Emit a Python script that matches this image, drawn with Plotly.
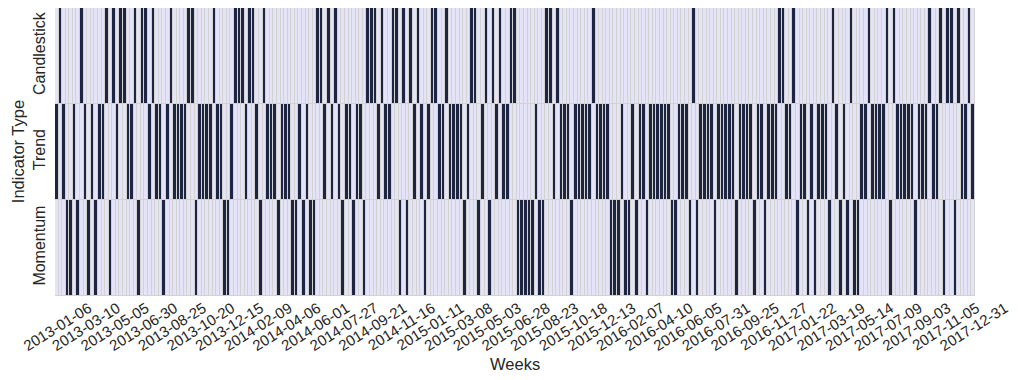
import pandas as pd
import plotly.graph_objects as go

# dominant indicator type per week (C = Candlestick, T = Trend, M = Momentum)
dominant = list(
    "TCTMMTMC" "TMTMTTCM" "CTCCTTCM" "CCTCTTMT"
    "CTTTTCCM" "TTTTCTTM" "MTCCCTCC" "TMCTTTMT"
    "TTMMTMTM" "MCCTCTCT" "MTTMTTMC" "CCTCTTCC"
    "MCMCTCTM" "TCCTTCTT" "TTMTCCMT" "CMCTCTTC"
    "CMMMMMTM" "MCCTCTTT" "MTTTTTCT" "TTTMMMTM"
    "MTMTTMTT" "TTTTMMTT" "TMCMTTTT" "MTTTTTMT"
    "TTTMTTMT" "TTCCTTCM" "TTMTMTTT" "MCTMTMCM"
    "MTTCTTTT" "CMCTTTTT" "MTTTCTTC" "MCCMCTTC"
    "T"
)
indicator_types = ["Candlestick", "Trend", "Momentum"]
indicator_codes = ["C", "T", "M"]

# weeks with no trading (holiday weeks) are absent from the data
missing_weeks = ["2013-02-17", "2016-02-14", "2016-10-09", "2017-10-08"]
weeks = [d.strftime("%Y-%m-%d") for d in pd.date_range("2013-01-06", "2017-12-31", freq="W-SUN")]
weeks = [w for w in weeks if w not in missing_weeks]

z = [[1 if c == code else 0 for c in dominant] for code in indicator_codes]

dark = "#1e2541"
light = "#e5e3f6"
text_col = "#262626"

fig = go.Figure(
    go.Heatmap(
        z=z,
        x=weeks,
        y=indicator_types,
        zmin=0,
        zmax=1,
        colorscale=[[0, light], [1, dark]],
        showscale=False,
        xgap=1,
        ygap=1,
    )
)

fig.update_xaxes(
    type="category",
    tickvals=weeks[::8],
    ticktext=weeks[::8],
    tickangle=-32,
    ticks="",
    showgrid=False,
    automargin=False,
    ticklabelshift=32,
    ticklabelstandoff=0,
    tickfont=dict(size=15, color=text_col),
)
fig.update_yaxes(
    type="category",
    autorange="reversed",
    tickangle=-90,
    ticks="",
    showgrid=False,
    automargin=False,
    ticklabelstandoff=6,
    tickfont=dict(size=16, color=text_col),
)

# axis titles
fig.add_annotation(text="Weeks", xref="paper", yref="paper", x=0.5, y=-0.236,
                   yanchor="middle", showarrow=False, font=dict(size=16.5, color=text_col))
fig.add_annotation(text="Indicator Type", xref="paper", yref="paper", x=-0.040, y=0.5,
                   xanchor="center", yanchor="middle", textangle=-90, showarrow=False,
                   font=dict(size=16.5, color=text_col))

fig.update_layout(
    width=1019,
    height=380,
    margin=dict(l=55, r=44, t=8, b=84),
    paper_bgcolor="white",
    plot_bgcolor="#d2d2d2",
    font=dict(family="Liberation Sans, Arial, sans-serif", color=text_col),
)

# drop the default page margin so the figure fills the window exactly
fig.write_html("out.html", config={"displayModeBar": False},
               post_script="document.body.style.margin = '0';")
